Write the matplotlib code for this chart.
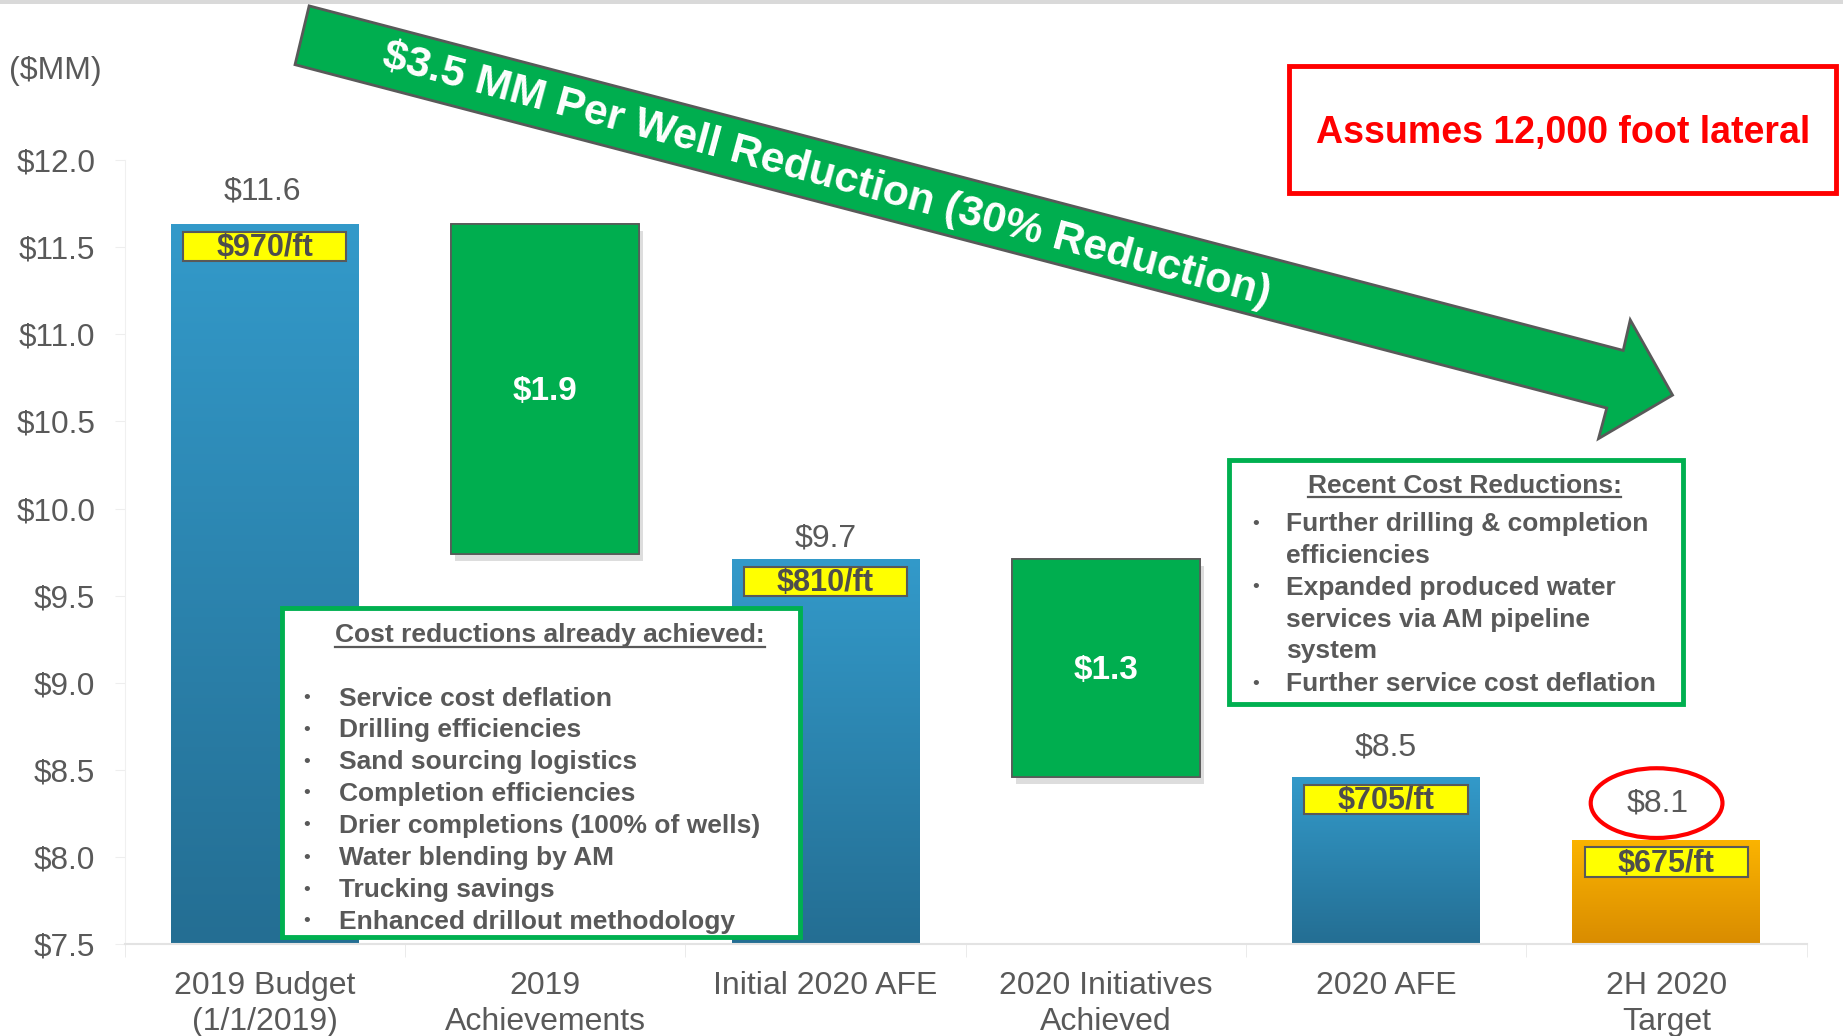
import matplotlib
matplotlib.use("Agg")
import matplotlib.pyplot as plt
import matplotlib.patheffects as pe
import numpy as np
from matplotlib.patches import Rectangle, Polygon, Ellipse
from matplotlib.lines import Line2D
from matplotlib.colors import LinearSegmentedColormap

plt.rcParams['font.family'] = ['Liberation Sans', 'DejaVu Sans']

# ---------------- data ----------------
categories = ["2019 Budget\n(1/1/2019)", "2019\nAchievements", "Initial 2020 AFE",
              "2020 Initiatives\nAchieved", "2020 AFE", "2H 2020\nTarget"]
bar_bottoms = [7.5, 9.74, 7.5, 8.46, 7.5, 7.5]
bar_tops = [11.63, 11.63, 9.71, 9.71, 8.46, 8.10]
bar_kinds = ["total", "step", "total", "step", "total", "target"]
total_labels = ["$11.6", "", "$9.7", "", "$8.5", "$8.1"]
per_ft_labels = ["$970/ft", "", "$810/ft", "", "$705/ft", "$675/ft"]
step_labels = ["", "$1.9", "", "$1.3", "", ""]
y_ticks = [7.5, 8.0, 8.5, 9.0, 9.5, 10.0, 10.5, 11.0, 11.5, 12.0]
y_tick_labels = ["$7.5", "$8.0", "$8.5", "$9.0", "$9.5", "$10.0", "$10.5", "$11.0", "$11.5", "$12.0"]
unit_label = "($MM)"
arrow_text = "$3.5 MM Per Well Reduction (30% Reduction)"
note_text = "Assumes 12,000 foot lateral"
achieved_title = "Cost reductions already achieved:"
achieved_items = ["Service cost deflation", "Drilling efficiencies", "Sand sourcing logistics",
                  "Completion efficiencies", "Drier completions (100% of wells)",
                  "Water blending by AM", "Trucking savings", "Enhanced drillout methodology"]
recent_title = "Recent Cost Reductions:"
recent_items = [["Further drilling & completion", "efficiencies"],
                ["Expanded produced water", "services via AM pipeline", "system"],
                ["Further service cost deflation"]]

# ---------------- style ----------------
GRAY = "#595959"
GREEN = "#00AE4F"
BOX_GREEN = "#00B050"
blue_cmap = LinearSegmentedColormap.from_list("blue", ["#339ACA", "#246E93"])
orange_cmap = LinearSegmentedColormap.from_list("orange", ["#FBB400", "#D98C00"])
label_offsets_pt = [(-2, 24), (0, 0), (0, 15), (0, 0), (0, 21), (-6.5, 26)]
BAR_W = 0.67

W, H = 1843, 1036
fig = plt.figure(figsize=(W / 100, H / 100), dpi=100)
fig.patch.set_facecolor("white")

DW, DH = 1568.0, 881.0


def d2f(x, y):
    return (x / DW, 1 - y / DH)


ax = fig.add_axes([106 / DW, 1 - 803 / DH, (1537 - 106) / DW, (803 - 136) / DH])

x = np.arange(len(categories))
heights = [t - b for t, b in zip(bar_tops, bar_bottoms)]
grad = np.linspace(0, 1, 256).reshape(-1, 1)

bars = ax.bar(x, heights, bottom=bar_bottoms, width=BAR_W, zorder=2)
for i, (bar, kind) in enumerate(zip(bars, bar_kinds)):
    if kind == "step":
        bar.set_facecolor(GREEN)
        bar.set_edgecolor(GRAY)
        bar.set_linewidth(1.2)
        bar.set_path_effects([pe.withSimplePatchShadow(offset=(3, -5), shadow_rgbFace="#909090", alpha=0.3),
                              pe.Normal()])
    else:
        bar.set_facecolor("none")
        bar.set_edgecolor("none")
        cmap = blue_cmap if kind == "total" else orange_cmap
        l = bar.get_x()
        im = ax.imshow(grad, cmap=cmap, aspect="auto", origin="upper",
                       extent=[l, l + bar.get_width(), bar_bottoms[i], bar_tops[i]], zorder=2)
        im.set_clip_path(bar)

# per-ft yellow boxes
box_w, box_h, box_off = 0.583, 0.169, 0.128
for i, lab in enumerate(per_ft_labels):
    if not lab:
        continue
    cy = bar_tops[i] - box_off
    ax.add_patch(Rectangle((x[i] - box_w / 2, cy - box_h / 2), box_w, box_h,
                           facecolor="#FFFF00", edgecolor=GRAY, linewidth=1.5, zorder=3))
    ax.text(x[i], cy - 0.01, lab, ha="center", va="center", fontsize=22, fontweight="bold",
            color="#4D4D4D", zorder=4)

# totals above bars
for i, lab in enumerate(total_labels):
    if not lab:
        continue
    ax.annotate(lab, (x[i], bar_tops[i]), xytext=label_offsets_pt[i], textcoords="offset points",
                ha="center", va="center", fontsize=23, color=GRAY, zorder=4)

# step values inside green bars
for i, lab in enumerate(step_labels):
    if not lab:
        continue
    ax.annotate(lab, (x[i], (bar_tops[i] + bar_bottoms[i]) / 2), xytext=(0, -2),
                textcoords="offset points", ha="center", va="center",
                fontsize=24, fontweight="bold", color="white", zorder=4)

# red ellipse around target total
ax.add_patch(Ellipse((x[5] - 0.035, bar_tops[5] + 0.21), 0.47, 0.40, facecolor="none",
                     edgecolor="#FF0000", linewidth=3, zorder=5, clip_on=False))

ax.set_xlim(-0.5, len(categories) - 0.5)
ax.set_ylim(7.5, 12.0)
ax.set_yticks(y_ticks)
ax.set_yticklabels(y_tick_labels)
ax.set_xticks(x)
ax.set_xticklabels(categories, linespacing=1.26)
ax.set_xticks(np.arange(-0.5, len(categories), 1), minor=True)
ax.tick_params(axis="y", labelsize=22.7, labelcolor=GRAY, length=7, color="#EEEEEE", pad=14)
ax.tick_params(axis="x", which="major", labelsize=23, labelcolor=GRAY, length=0, pad=19)
ax.tick_params(axis="x", which="minor", length=9, color="#E8E8E8")
for s in ["top", "right"]:
    ax.spines[s].set_visible(False)
ax.spines["left"].set_color("#F0F0F0")
ax.spines["bottom"].set_color("#E3E3E3")
ax.spines["bottom"].set_linewidth(1.5)
ax.set_axisbelow(True)

# unit label
fig.text(*d2f(47, 60), unit_label, ha="center", va="center", fontsize=23, color=GRAY)

# top shadow line
fig.add_artist(Rectangle((0, 1 - 3 / DH), 1, 3 / DH, transform=fig.transFigure,
                         facecolor="#D9D9D9", edgecolor="none"))

# big arrow
arrow_pts = [d2f(263, 5), d2f(1381, 298), d2f(1387, 272), d2f(1423, 336),
             d2f(1360, 373), d2f(1367, 347), d2f(251, 55)]
fig.add_artist(Polygon(arrow_pts, closed=True, transform=fig.transFigure, facecolor=GREEN,
                       edgecolor=GRAY, linewidth=2, zorder=3))
fig.text(*d2f(703, 149), arrow_text, rotation=-15.1, rotation_mode="anchor", ha="center",
         va="center", fontsize=31, fontweight="bold", color="white", zorder=4)

# red note box
x0, y0 = d2f(1097, 164)
x1, y1 = d2f(1562, 56)
fig.add_artist(Rectangle((x0, y0), x1 - x0, y1 - y0, transform=fig.transFigure,
                         facecolor="white", edgecolor="#FF0000", linewidth=3.5, zorder=3))
fig.text(*d2f(1330, 113), note_text, ha="center", va="center", fontsize=27,
         fontweight="bold", color="#FF0000", zorder=4)

# achieved box
x0, y0 = d2f(240, 797)
x1, y1 = d2f(681, 517)
fig.add_artist(Rectangle((x0, y0), x1 - x0, y1 - y0, transform=fig.transFigure,
                         facecolor="white", edgecolor=BOX_GREEN, linewidth=3.5, zorder=3))
t1 = fig.text(*d2f(468, 546), achieved_title, ha="center", va="baseline", fontsize=19,
              fontweight="bold", color=GRAY, zorder=4)
ach_y = [594, 621, 648, 675, 702, 730, 757, 784]
for yy, item in zip(ach_y, achieved_items):
    fig.text(*d2f(261, yy), "•", ha="center", va="center", fontsize=14, color=GRAY, zorder=4)
    fig.text(*d2f(288, yy), item, ha="left", va="center", fontsize=19, fontweight="bold",
             color=GRAY, zorder=4)

# recent box
x0, y0 = d2f(1046, 599)
x1, y1 = d2f(1432, 391)
fig.add_artist(Rectangle((x0, y0), x1 - x0, y1 - y0, transform=fig.transFigure,
                         facecolor="white", edgecolor=BOX_GREEN, linewidth=3.5, zorder=3))
t2 = fig.text(*d2f(1246, 419), recent_title, ha="center", va="baseline", fontsize=19,
              fontweight="bold", color=GRAY, zorder=4)
line_y = [446, 473, 500, 527, 554, 582]
k = 0
for group in recent_items:
    fig.text(*d2f(1068, line_y[k]), "•", ha="center", va="center", fontsize=14, color=GRAY, zorder=4)
    for ln in group:
        fig.text(*d2f(1094, line_y[k]), ln, ha="left", va="center", fontsize=19,
                 fontweight="bold", color=GRAY, zorder=4)
        k += 1

# underlines for titles
fig.canvas.draw()
r = fig.canvas.get_renderer()
for t in (t1, t2):
    bb = t.get_window_extent(r)
    _, yb = t.get_position()
    yl = yb - 4 / DH
    fig.add_artist(Line2D([bb.x0 / W, bb.x1 / W], [yl, yl], transform=fig.transFigure,
                          color=GRAY, linewidth=1.6, zorder=4))

fig.savefig("out.png", dpi=100, facecolor="white")
